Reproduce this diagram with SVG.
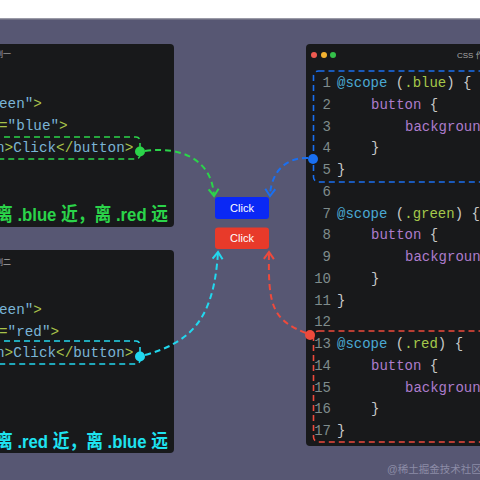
<svg xmlns="http://www.w3.org/2000/svg" width="480" height="480" viewBox="0 0 480 480">
<defs>
<style>
.panel{fill:#18191b}
.code{font-family:"Liberation Mono","DejaVu Sans Mono",monospace;font-size:14.3px}
.rc{font-family:"Liberation Mono","DejaVu Sans Mono",monospace;font-size:14px}
.ln{fill:#7f8c8c}
.kw{fill:#4aa8d2}
.pu{fill:#c9c9c9}
.sel{fill:#a5c84a}
.prop{fill:#ad7ccc}
.str{fill:#7ab4d6}
.tag{fill:#a8c24a}
.title{font-family:"Liberation Sans","Noto Sans CJK SC",sans-serif;font-size:8px;fill:#a8a8a8}
.note{font-family:"Liberation Sans","Noto Sans CJK SC",sans-serif;font-size:19px;font-weight:bold}
.btxt{font-family:"Liberation Sans",Arial,sans-serif;font-size:11px;fill:#ffffff;text-anchor:middle}
.dash{fill:none;stroke-width:1.6;stroke-dasharray:6 4}
.conn{fill:none;stroke-width:2;stroke-dasharray:6 4}
</style>
<marker id="ag" viewBox="0 0 12 12" refX="10" refY="6" markerWidth="12" markerHeight="12" markerUnits="userSpaceOnUse" orient="auto"><path d="M3,1 L10,6 L3,11" fill="none" stroke="#2bd44a" stroke-width="2"/></marker>
<marker id="ab" viewBox="0 0 12 12" refX="10" refY="6" markerWidth="12" markerHeight="12" markerUnits="userSpaceOnUse" orient="auto"><path d="M3,1 L10,6 L3,11" fill="none" stroke="#1a6ff0" stroke-width="2"/></marker>
<marker id="ac" viewBox="0 0 12 12" refX="10" refY="6" markerWidth="12" markerHeight="12" markerUnits="userSpaceOnUse" orient="auto"><path d="M3,1 L10,6 L3,11" fill="none" stroke="#22d8ee" stroke-width="2"/></marker>
<marker id="ar" viewBox="0 0 12 12" refX="10" refY="6" markerWidth="12" markerHeight="12" markerUnits="userSpaceOnUse" orient="auto"><path d="M3,1 L10,6 L3,11" fill="none" stroke="#ee4a3c" stroke-width="2"/></marker>
</defs>
<rect x="0" y="0" width="480" height="480" fill="#575773"/>
<rect x="0" y="0" width="480" height="18.5" fill="#ffffff"/>
<rect x="0" y="18.5" width="480" height="1" fill="#8a8a96"/>

<g id="panel1">
<rect class="panel" x="-10" y="44" width="184" height="183" rx="4"/>
<text class="title" x="11" y="57" text-anchor="end">示例一</text>
<text class="code" x="-1" y="108"><tspan class="str">een"</tspan><tspan class="tag">&gt;</tspan></text>
<text class="code" x="-1" y="130"><tspan class="tag">=</tspan><tspan class="str">"blue"</tspan><tspan class="tag">&gt;</tspan></text>
<text class="code" x="-4" y="152"><tspan class="str">n</tspan><tspan class="tag">&gt;</tspan><tspan class="str">Click</tspan><tspan class="tag">&lt;/</tspan><tspan class="str">button</tspan><tspan class="tag">&gt;</tspan></text>
<rect class="dash" x="-10" y="137" width="150" height="22" rx="4" stroke="#2bd44a"/>
<circle cx="140" cy="151.5" r="5" fill="#2bd44a"/>
<text class="note" x="-4" y="221" fill="#2bd44a" textLength="172" lengthAdjust="spacingAndGlyphs">离 .blue 近，离 .red 远</text>
</g>

<g id="panel2">
<rect class="panel" x="-10" y="250" width="184" height="203" rx="4"/>
<text class="title" x="11" y="265" text-anchor="end">示例二</text>
<text class="code" x="-1" y="314"><tspan class="str">een"</tspan><tspan class="tag">&gt;</tspan></text>
<text class="code" x="-1" y="336"><tspan class="tag">=</tspan><tspan class="str">"red"</tspan><tspan class="tag">&gt;</tspan></text>
<text class="code" x="-4" y="357"><tspan class="str">n</tspan><tspan class="tag">&gt;</tspan><tspan class="str">Click</tspan><tspan class="tag">&lt;/</tspan><tspan class="str">button</tspan><tspan class="tag">&gt;</tspan></text>
<rect class="dash" x="-10" y="341" width="150" height="23" rx="4" stroke="#22d8ee"/>
<circle cx="140" cy="356.5" r="5" fill="#22d8ee"/>
<text class="note" x="-4" y="448" fill="#1ee3f0" textLength="172" lengthAdjust="spacingAndGlyphs">离 .red 近，离 .blue 远</text>
</g>

<g id="csspanel">
<rect class="panel" x="306" y="44" width="190" height="402" rx="4"/>
<circle cx="314" cy="55" r="3" fill="#ee5a50"/>
<circle cx="324" cy="55" r="3" fill="#f2b230"/>
<circle cx="333" cy="55" r="3" fill="#34c04a"/>
<text class="title" x="457" y="58">CSS 作用域</text>
<g class="rc">
<text x="331" y="87" text-anchor="end" class="ln">1</text>
<text x="337" y="87"><tspan class="kw">@scope</tspan><tspan class="pu"> (</tspan><tspan class="sel">.blue</tspan><tspan class="pu">) {</tspan></text>
<text x="331" y="108.75" text-anchor="end" class="ln">2</text>
<text x="371" y="108.75"><tspan class="prop">button</tspan><tspan class="pu"> {</tspan></text>
<text x="331" y="130.5" text-anchor="end" class="ln">3</text>
<text x="405" y="130.5" class="prop">background</text>
<text x="331" y="152.25" text-anchor="end" class="ln">4</text>
<text x="371" y="152.25" class="pu">}</text>
<text x="331" y="174" text-anchor="end" class="ln">5</text>
<text x="337" y="174" class="pu">}</text>
<text x="331" y="195.75" text-anchor="end" class="ln">6</text>
<text x="331" y="217.5" text-anchor="end" class="ln">7</text>
<text x="337" y="217.5"><tspan class="kw">@scope</tspan><tspan class="pu"> (</tspan><tspan class="sel">.green</tspan><tspan class="pu">) {</tspan></text>
<text x="331" y="239.25" text-anchor="end" class="ln">8</text>
<text x="371" y="239.25"><tspan class="prop">button</tspan><tspan class="pu"> {</tspan></text>
<text x="331" y="261" text-anchor="end" class="ln">9</text>
<text x="405" y="261" class="prop">background</text>
<text x="331" y="282.75" text-anchor="end" class="ln">10</text>
<text x="371" y="282.75" class="pu">}</text>
<text x="331" y="304.5" text-anchor="end" class="ln">11</text>
<text x="337" y="304.5" class="pu">}</text>
<text x="331" y="326.25" text-anchor="end" class="ln">12</text>
<text x="331" y="348" text-anchor="end" class="ln">13</text>
<text x="337" y="348"><tspan class="kw">@scope</tspan><tspan class="pu"> (</tspan><tspan class="sel">.red</tspan><tspan class="pu">) {</tspan></text>
<text x="331" y="369.75" text-anchor="end" class="ln">14</text>
<text x="371" y="369.75"><tspan class="prop">button</tspan><tspan class="pu"> {</tspan></text>
<text x="331" y="391.5" text-anchor="end" class="ln">15</text>
<text x="405" y="391.5" class="prop">background</text>
<text x="331" y="413.25" text-anchor="end" class="ln">16</text>
<text x="371" y="413.25" class="pu">}</text>
<text x="331" y="435" text-anchor="end" class="ln">17</text>
<text x="337" y="435" class="pu">}</text>
</g>
<rect class="dash" x="313.5" y="71" width="180" height="111" rx="5" stroke="#1a6ff0"/>
<circle cx="313" cy="159" r="5" fill="#1a6ff0"/>
<rect class="dash" x="313.5" y="331" width="180" height="111" rx="5" stroke="#ee4a3c"/>
<circle cx="310" cy="335" r="5" fill="#ee4a3c"/>
</g>

<g id="btn-blue">
<rect x="215" y="197" width="54" height="22" rx="3" fill="#0a28f5"/>
<text class="btxt" x="242" y="212">Click</text>
</g>
<g id="btn-red">
<rect x="215" y="227.5" width="54" height="21.5" rx="3" fill="#e83a2a"/>
<text class="btxt" x="242" y="242">Click</text>
</g>

<g id="connectors">
<path class="conn" stroke="#2bd44a" d="M145,151 C182,146 212,160 214,196" marker-end="url(#ag)"/>
<path class="conn" stroke="#1a6ff0" d="M308,158 C288,157 271,170 270,196" marker-end="url(#ab)"/>
<path class="conn" stroke="#22d8ee" d="M145,355 C192,342 214,318 218,252" marker-end="url(#ac)"/>
<path class="conn" stroke="#ee4a3c" d="M306,333 C272,320 268,305 269,252" marker-end="url(#ar)"/>
</g>

<text x="387" y="473" font-family="'Liberation Sans','Noto Sans CJK SC',sans-serif" font-size="10.5" fill="#8c8ca6">@稀土掘金技术社区</text>
</svg>
